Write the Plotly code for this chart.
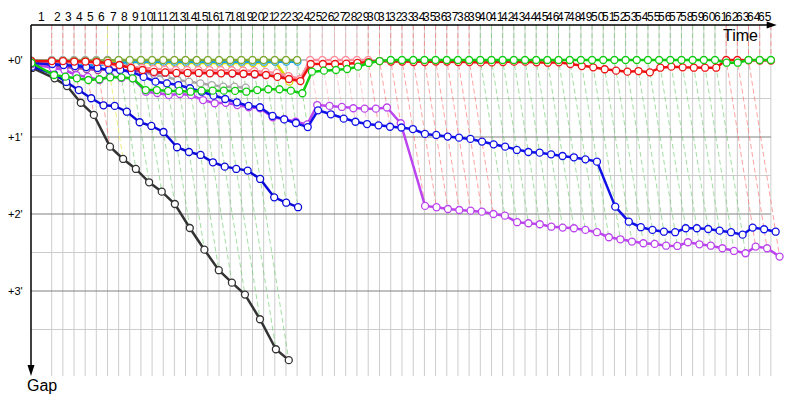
import plotly.graph_objects as go

# leader lap times in seconds (lap 1 from standing start)
lap_times = [102, 55, 55, 55, 55, 55, 55, 55, 55, 55, 55, 55, 55, 55, 55, 55, 55, 55, 55, 55, 55, 55, 55,
             64, 60, 60, 55.5, 55.5, 55.5, 55.5, 55.5, 55.5, 55.5,
             55.1, 55.1, 55.1, 55.1, 55.1, 55.1, 55.1, 55.1, 55.1, 55.1, 55.1, 55.1, 55.1, 55.1, 55.1, 55.1,
             55.1, 55.1, 55.1, 55.1, 55.1, 55.1, 55.1, 55.1, 55.1, 55.1, 55.1, 55.1, 55.1, 55.1, 55.1, 55.1]

# flag state per lap: R = red, Y = yellow, G = green, P = light red
lap_flags = "RRRRRYGGGGGGGGGGGGGGGGGPPPPPRRRRRRRRRRGGGGGGGGGGGGGGGGGGGGGGRRRRR"

# gap to leader (s) per lap, starting at lap 0
green_gap = [2.3, 11.7, 13.0, 14.3, 15.6, 15.0, 13.5, 13.5, 14.3, 23.4,
             23.4, 24.1, 24.1, 24.7, 23.9, 23.9, 23.9, 24.1, 24.7, 23.4,
             22.8, 22.8, 23.9, 25.9, 9.1, 8.3, 7.8, 7.0, 5.2, 2.3,
             0.8, 0, 0, 0, 0, 0, 0, 0, 0, 0,
             0, 0, 0, 0, 0, 0, 0, 0, 0, 0,
             0, 0, 0, 0, 0, 0, 0, 0, 0, 0,
             0, 2.1, 2.1, 0, 0, 0]
red_gap = [0.8, 0.8, 0.8, 1.2, 1.2, 1.6, 2.3, 3.9, 6.2, 7.8, 9.3, 9.7, 10.1, 10.1, 10.1, 10.4,
           10.4, 10.4, 10.7, 10.9, 11.7, 13.2, 14.8, 16.4,
           3.1, 3.1, 3.1, 2.9, 2.3, 1.6, 0.8,
           1.2, 1.2, 1.6, 1.6, 1.2, 1.2, 1.6, 1.6, 1.9, 1.9, 1.6, 1.3,
           1.3, 1.8, 2.1, 1.8, 3.1, 4.7, 5.7, 7.2, 8.3, 9.1, 8.6, 9.6, 6.0, 5.2, 5.7, 6.0, 6.0, 6.0,
           0, 0, 0.2, 0.4, 0.4]
blue_gap = [2.3, 3.1, 3.9, 4.7, 5.5, 6.2, 7.8, 7.8, 9.3, 13.2,
            16.9, 18.2, 19.5, 22.0, 24.7, 27.8, 30.4, 33.0, 35.8, 36.8,
            43.6, 46.3, 49.1, 52.3, 39.2, 42.3, 45.7, 48.1, 49.9, 50.9,
            52.0, 52.6, 53.8, 57.6, 58.4, 59.7, 60.5, 61.5, 63.6, 65.7,
            67.5, 70.1, 71.7, 72.2, 73.5, 74.8, 75.8, 77.4, 79.2, 114.3,
            126.0, 130.3, 132.4, 133.8, 134.2, 131.1, 131.1, 131.7, 133.0, 134.2,
            136.1, 130.6, 131.9, 133.8]
magenta_gap = [3.1, 6.2, 7.8, 11.7, 13.2, 15.6, 12.5, 14.0, 14.3, 24.7,
               25.7, 27.3, 26.5, 27.3, 31.2, 33.7, 33.3, 35.1, 36.8, 37.6,
               44.6, 46.0, 48.1, 50.2, 35.1, 35.8, 36.6, 37.6, 37.9, 37.9,
               37.0, 49.3, 113.7, 114.7, 116.1, 116.9, 117.4, 118.2, 120.0, 121.3,
               126.4, 127.2, 128.0, 129.9, 130.6, 131.1, 132.4, 134.2, 138.1, 139.7,
               141.5, 142.8, 143.3, 144.7, 144.9, 142.0, 143.6, 144.7, 146.7, 148.8,
               150.6, 145.4, 146.7, 153.2]
blue2_gap = [5.2, 10.9, 17.1, 23.4, 29.8, 35.3, 35.8, 40.3, 48.5, 51.4, 56.1,
             68.0, 71.7, 74.0, 79.7, 83.1, 84.9, 86.2, 92.7, 107.0, 111.2, 114.7]
black_gap = [6.2, 14.3, 20.3, 33.3, 42.8, 67.5, 77.1, 84.9, 95.3, 102.6,
             112.2, 130.9, 147.8, 163.8, 173.5, 182.8, 202.0, 225.4, 233.9]
gray_gap = [0.4, 0, 0, 0, 0, 0, 0, 0.4, 5.2, 9.3, 11.7, 13.0, 15.6, 16.9, 18.2, 19.5, 20.8, 20.8, 21.6]
pink_gap = [1.2, 1.6, 1.6, 1.6, 1.9, 2.3, 3.1, 4.7, 5.5, 6.2, 7.0, 7.4, 7.8, 7.8, 7.8,
            7.8, 7.8, 8.0, 8.2, 8.6, 9.3, 10.1, 12.5, 14.8, 0, 0, 0, 0, 0, 0]
purple_gap = [3.1, 4.7, 5.5, 6.2, 7.0, 7.8, 7.0, 7.8, 8.6, 9.3, 9.7, 9.9,
              9.9, 9.9, 10.1, 10.1, 10.1, 10.5, 10.9, 11.3, 11.7, 12.5, 13.0]
yellow_gap = [1.6, 2.3, 2.3, 2.3, 2.3, 2.3, 1.6, 0.8, 1.6, 1.9, 2.3, 2.3,
              2.3, 2.3, 2.3, 2.3, 2.3, 2.3, 2.3, 2.3, 2.3, 1.3, 16.9]
lightblue_gap = [2.3, 3.1, 3.9, 3.9, 3.9, 3.9, 3.1, 2.3, 1.6, 1.3, 1.3, 1.3,
                 1.3, 1.3, 1.3, 1.3, 1.3, 1.3, 1.3, 1.3, 1.3, 1.3, 1.3, 1.3]
olive_gap = [0.8, 0.8, 0.8, 0.8, 0.8, 0.8, 0.4, 0, 0, 0, 0, 0,
             0, 0, 0, 0, 0, 0, 0, 0, 0, 0, 0, 0]

gap_ticks = [0, 1, 2, 3]
gap_tick_text = ["+0'", "+1'", "+2'", "+3'"]

cars = [
    (black_gap, "#333333"),
    (blue2_gap, "#0a0ad8"),
    (gray_gap, "#a8a8a8"),
    (purple_gap, "#a0409a"),
    (yellow_gap, "#d8d800"),
    (lightblue_gap, "#10a0f0"),
    (olive_gap, "#7fa832"),
    (pink_gap, "#ff8c9c"),
    (magenta_gap, "#bb44ee"),
    (blue_gap, "#1010e8"),
    (red_gap, "#ee1111"),
    (green_gap, "#11cc11"),
]
flag_colors = {"R": "rgba(255,110,110,0.65)", "P": "rgba(255,160,175,0.6)",
               "Y": "rgba(235,235,100,0.8)", "G": "rgba(110,205,110,0.65)"}

Y_TOP, Y_BOT = -35 / 77, 320 / 77
X_MAX = 759 / 12.17

lead_t = [0]
for lt in lap_times:
    lead_t.append(lead_t[-1] + lt)
n_laps = len(lap_times)

fig = go.Figure()

# lap lines: vertical above the leader, then slanting through every car on that lap
for n in range(1, n_laps + 1):
    last = max(g[n] for g, c in cars if len(g) > n)
    fig.add_trace(go.Scatter(
        x=[lead_t[n] / 60, lead_t[n] / 60, (lead_t[n] + last) / 60],
        y=[Y_TOP, 0, last / 60], mode="lines", hoverinfo="skip",
        line=dict(color=flag_colors[lap_flags[n - 1]], width=1, dash="5px,3px")))

for g, c in cars:
    fig.add_trace(go.Scatter(
        x=[(lead_t[i] + v) / 60 for i, v in enumerate(g)],
        y=[v / 60 for v in g], mode="lines+markers",
        line=dict(color=c, width=2.5),
        marker=dict(symbol="circle", size=7, color="white", line=dict(color=c, width=1.3))))

shapes = []
for n in range(1, n_laps + 1):
    shapes.append(dict(type="line", layer="below", x0=lead_t[n] / 60, x1=lead_t[n] / 60,
                       y0=Y_TOP, y1=316 / 77, line=dict(color="#cccccc", width=1)))
for k in range(8):
    shapes.append(dict(type="line", layer="below", x0=0, x1=lead_t[-1] / 60, y0=k / 2, y1=k / 2,
                       line=dict(color="#808080" if k % 2 == 0 else "#cccccc", width=1)))
# axes with arrows
shapes.append(dict(type="line", xref="paper", yref="paper", x0=0, x1=0.975, y0=1, y1=1,
                   line=dict(color="black", width=1.5)))
shapes.append(dict(type="path", xref="paper", yref="paper", fillcolor="black", line=dict(width=0),
                   path="M 0.9825 1 L 0.9693 1.0099 L 0.9693 0.9901 Z"))
shapes.append(dict(type="line", xref="paper", yref="paper", x0=0, x1=0, y0=1, y1=0.03,
                   line=dict(color="black", width=1.5)))
shapes.append(dict(type="path", xref="paper", yref="paper", fillcolor="black", line=dict(width=0),
                   path="M 0 0.0113 L -0.0046 0.0423 L 0.0046 0.0423 Z"))

annotations = []
for n in range(1, n_laps + 1):
    annotations.append(dict(x=(lead_t[n - 1] + lead_t[n]) / 120, y=1.0225, xref="x", yref="paper",
                            yanchor="middle", text=str(n), showarrow=False,
                            font=dict(size=12, color="black")))
for v, t in zip(gap_ticks, gap_tick_text):
    annotations.append(dict(x=-0.008, y=v, xref="paper", yref="y", text=t, showarrow=False,
                            xanchor="right", font=dict(size=11, color="black")))
annotations.append(dict(x=0.9605, y=0.9718, xref="paper", yref="paper", text="Time",
                        yanchor="middle", showarrow=False, font=dict(size=16, color="black")))
annotations.append(dict(x=-0.0079, y=-0.0141, xref="paper", yref="paper", text="Gap",
                        yanchor="middle", showarrow=False, font=dict(size=16, color="black")))

fig.update_layout(
    width=800, height=400, margin=dict(l=31, r=10, t=25, b=20, autoexpand=False),
    paper_bgcolor="white", plot_bgcolor="white", showlegend=False,
    font=dict(family="Liberation Sans, Arial, sans-serif"),
    xaxis=dict(range=[0, X_MAX], visible=False),
    yaxis=dict(range=[Y_BOT, Y_TOP], visible=False),
    shapes=shapes, annotations=annotations,
)

fig.write_html("out.html", config={"displayModeBar": False},
               post_script="document.body.style.margin = '0';")
